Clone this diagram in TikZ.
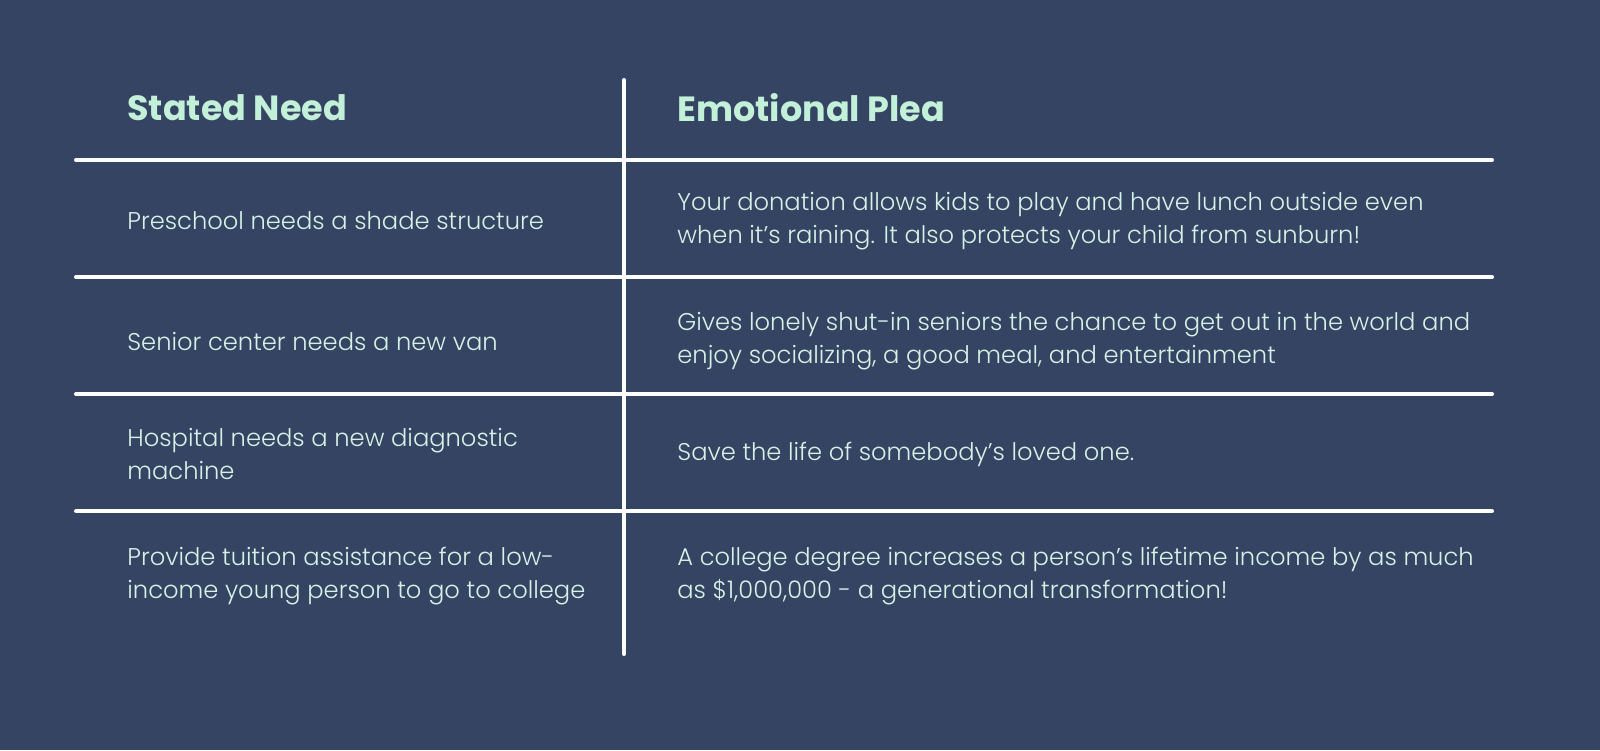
\documentclass[tikz,border=0pt]{standalone}
\usepackage{fontspec}
\setmainfont{Poppins}[UprightFont=* Light, BoldFont=* Bold]
\definecolor{bg}{HTML}{354463}
\definecolor{head}{HTML}{C2F0D8}
\definecolor{body}{HTML}{D5F2E6}
\begin{document}
\begin{tikzpicture}[x=0.5pt,y=-0.5pt,
  rule/.style={white,line width=2pt,line cap=round},
  hd/.style={anchor=west,inner sep=0pt,text=head,font=\fontsize{17.5}{21}\selectfont\bfseries},
  cell/.style={anchor=west,inner sep=0pt,text=body,align=left,font=\fontsize{12.1}{16.5}\selectfont}]
\fill[bg] (0,0) rectangle (1600,750);
\draw[rule] (624,80) -- (624,654);
\foreach \y in {160,277,394,511} \draw[rule] (76,\y) -- (1492,\y);
\node[hd] (h1) at (127,108) {Stated Need};
\node[hd] (h2) at (677,108) {Emotional Plea};
\node[cell] (l1) at (127,221) {Preschool needs a shade structure};
\node[cell] (r1) at (677,221) {Your donation allows kids to play and have lunch outside even\\when it’s raining. It also protects your child from sunburn!};
\node[cell] (l2) at (127,341) {Senior center needs a new van};
\node[cell] (r2) at (677,341) {Gives lonely shut-in seniors the chance to get out in the world and\\enjoy socializing, a good meal, and entertainment};
\node[cell] (l3) at (127,454) {Hospital needs a new diagnostic\\machine};
\node[cell] (r3) at (677,454) {Save the life of somebody’s loved one.};
\node[cell] (l4) at (127,576) {Provide tuition assistance for a low-\\income young person to go to college};
\node[cell] (r4) at (677,576) {A college degree increases a person’s lifetime income by as much\\as \$1,000,000 - a generational transformation!};
\end{tikzpicture}
\end{document}
